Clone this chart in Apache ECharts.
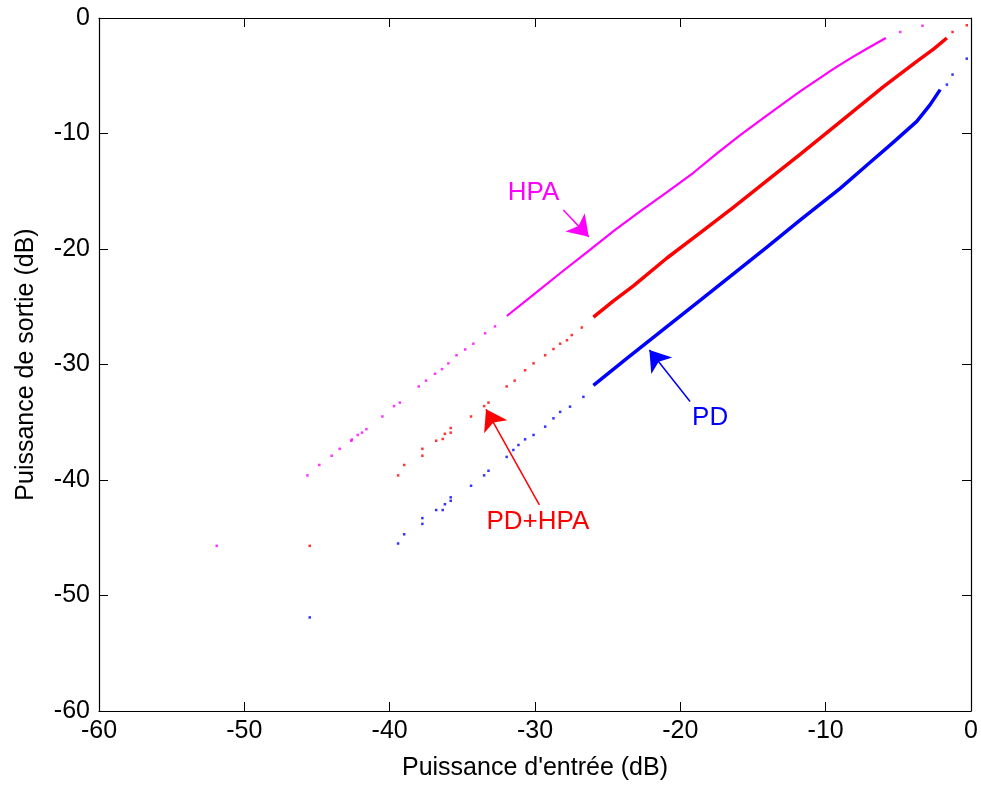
<!DOCTYPE html>
<html>
<head>
<meta charset="utf-8">
<script src="https://cdn.jsdelivr.net/npm/echarts@6/dist/echarts.min.js"></script>
<style>
html,body{margin:0;padding:0;background:#fff;}
#chart{width:981px;height:786px;}
</style>
</head>
<body>
<div id="chart"></div>
<script>
// ---- Data (dB) ----
// HPA (magenta): isolated points
const hpaDotsX = [-51.9,-45.66,-44.84,-43.99,-43.44,-42.64,-42.6,-42.2,-41.9,-41.6,-40.5,-39.7,-39.3,-38.0,-37.5,-36.88,-36.4,-35.96,-35.4,-34.8,-34.24,-33.43,-32.75,-4.87,-3.34];
const hpaDotsY = [-45.7,-39.6,-38.7,-37.9,-37.3,-36.6,-36.5,-36.1,-35.9,-35.6,-34.5,-33.6,-33.3,-31.9,-31.4,-30.8,-30.4,-29.9,-29.2,-28.7,-28.2,-27.3,-26.7,-1.21,-0.67];
// HPA dense band
const hpaBandX = [-31.94,-30.1,-28.27,-26.44,-24.6,-22.77,-20.94,-19.1,-17.5,-15.88,-14.06,-11.76,-9.46,-8.3,-7.17,-5.86];
const hpaBandY = [-25.8,-23.95,-22.1,-20.3,-18.45,-16.75,-15.1,-13.4,-11.75,-10.15,-8.45,-6.35,-4.4,-3.5,-2.66,-1.73];

// PD+HPA (red): isolated points
const pdhpaDotsX = [-45.5,-39.42,-39.0,-37.75,-37.75,-36.8,-36.35,-36.2,-35.8,-35.8,-34.4,-33.5,-33.2,-31.95,-31.4,-30.68,-30.1,-29.3,-28.73,-28.27,-27.8,-27.47,-26.78,-1.27,-0.29];
const pdhpaDotsY = [-45.7,-39.6,-38.7,-37.9,-37.3,-36.6,-36.45,-36.0,-35.9,-35.5,-34.5,-33.6,-33.3,-31.9,-31.4,-30.5,-29.9,-29.2,-28.66,-28.2,-27.9,-27.45,-26.8,-1.21,-0.63];
// PD+HPA dense band
const pdhpaBandX = [-25.98,-24.6,-23.23,-20.94,-18.64,-16.35,-14.06,-11.76,-9.0,-6.02,-3.73,-2.58,-1.66];
const pdhpaBandY = [-25.9,-24.5,-23.2,-20.8,-18.6,-16.4,-14.1,-11.8,-9.0,-5.95,-3.75,-2.7,-1.73];

// PD (blue): isolated points
const pdDotsX = [-45.5,-39.42,-39.0,-37.75,-37.75,-36.8,-36.35,-36.2,-35.8,-35.8,-34.4,-33.5,-33.2,-31.95,-31.49,-31.14,-30.68,-30.1,-29.3,-28.73,-28.27,-27.59,-26.67,-1.66,-1.27,-0.29];
const pdDotsY = [-51.9,-45.5,-44.7,-43.8,-43.3,-42.6,-42.6,-42.1,-41.8,-41.5,-40.5,-39.6,-39.2,-38.0,-37.4,-36.97,-36.48,-36.1,-35.38,-34.66,-34.1,-33.65,-32.8,-5.77,-4.9,-3.52];
// PD dense band
const pdBandX = [-25.98,-23.7,-21.16,-18.64,-16.35,-14.06,-11.76,-9.0,-7.17,-5.33,-3.73,-2.81,-2.12];
const pdBandY = [-31.8,-29.5,-26.95,-24.45,-22.15,-19.85,-17.5,-14.75,-12.75,-10.75,-8.95,-7.5,-6.2];

// Axis ticks
const xTicks = [-60,-50,-40,-30,-20,-10,0];
const yTicks = [0,-10,-20,-30,-40,-50,-60];

// Annotations (label text, label anchor, arrow tail, arrow tip) in data units
const annHPA   = {text:'HPA',    at:[-30.1,-15.1], from:[-28.05,-16.62], to:[-26.3,-18.95]};
const annPD    = {text:'PD',     at:[-17.95,-34.6], from:[-19.33,-33.2], to:[-22.13,-28.74]};
const annPDHPA = {text:'PD+HPA', at:[-29.8,-43.6], from:[-29.7,-42.16], to:[-33.37,-33.88]};

const MAG = '#ff00ff', RED = '#ff0000', BLUE = '#0000ff';
const zip = (xs, ys) => xs.map((x, i) => [x, ys[i]]);
const FONT = 'Liberation Sans, Arial, sans-serif';

function annSeries(a, color) {
  return {
    type: 'scatter', data: [], silent: true, z: 5,
    markLine: {
      silent: true, animation: false,
      symbol: ['none', 'arrow'], symbolSize: 20,
      lineStyle: {color: color, width: 1.5, type: 'solid'},
      label: {show: false},
      emphasis: {disabled: true},
      data: [[{coord: a.from}, {coord: a.to}]]
    },
    markPoint: {
      silent: true, animation: false,
      symbol: 'circle', symbolSize: 0,
      label: {show: true, formatter: a.text, color: color, fontSize: 26, fontFamily: FONT},
      data: [{coord: a.at}]
    }
  };
}

const axisLineStyle = {lineStyle: {color: '#000', width: 1.2}};
const chart = echarts.init(document.getElementById('chart'), null, {renderer: 'canvas'});
chart.setOption({
  animation: false,
  backgroundColor: '#fff',
  grid: {left: 99, right: 10, top: 18, bottom: 75, containLabel: false},
  xAxis: [{
    type: 'value', min: xTicks[0], max: xTicks[xTicks.length - 1], interval: 10,
    name: "Puissance d'entrée (dB)", nameLocation: 'middle', nameGap: 45,
    nameTextStyle: {color: '#000', fontSize: 25, fontFamily: FONT},
    axisLine: Object.assign({onZero: false}, axisLineStyle),
    axisTick: {inside: true, length: 9, lineStyle: {color: '#000'}},
    axisLabel: {color: '#000', fontSize: 25, fontFamily: FONT, margin: 8},
    splitLine: {show: false}
  }, {
    type: 'value', position: 'top', min: xTicks[0], max: xTicks[xTicks.length - 1], interval: 10,
    axisLine: Object.assign({onZero: false}, axisLineStyle),
    axisTick: {inside: true, length: 9, lineStyle: {color: '#000'}},
    axisLabel: {show: false}, splitLine: {show: false}
  }],
  yAxis: [{
    type: 'value', min: yTicks[yTicks.length - 1], max: yTicks[0], interval: 10,
    name: 'Puissance de sortie (dB)', nameLocation: 'middle', nameGap: 60,
    nameTextStyle: {color: '#000', fontSize: 25, fontFamily: FONT},
    axisLine: Object.assign({onZero: false}, axisLineStyle),
    axisTick: {inside: true, length: 9, lineStyle: {color: '#000'}},
    axisLabel: {color: '#000', fontSize: 25, fontFamily: FONT, margin: 9},
    splitLine: {show: false}
  }, {
    type: 'value', position: 'right', min: yTicks[yTicks.length - 1], max: yTicks[0], interval: 10,
    axisLine: Object.assign({onZero: false}, axisLineStyle),
    axisTick: {inside: true, length: 9, lineStyle: {color: '#000'}},
    axisLabel: {show: false}, splitLine: {show: false}
  }],
  series: [
    {name: 'HPA', type: 'scatter', data: zip(hpaDotsX, hpaDotsY), symbol: 'rect', symbolSize: 2.5, itemStyle: {color: MAG}},
    {name: 'HPA band', type: 'line', data: zip(hpaBandX, hpaBandY), showSymbol: false, smooth: false, lineStyle: {color: MAG, width: 2.2, join: 'round'}},
    {name: 'PD+HPA', type: 'scatter', data: zip(pdhpaDotsX, pdhpaDotsY), symbol: 'rect', symbolSize: 2.5, itemStyle: {color: RED}},
    {name: 'PD+HPA band', type: 'line', data: zip(pdhpaBandX, pdhpaBandY), showSymbol: false, smooth: false, lineStyle: {color: RED, width: 3.5, join: 'round'}},
    {name: 'PD', type: 'scatter', data: zip(pdDotsX, pdDotsY), symbol: 'rect', symbolSize: 2.5, itemStyle: {color: BLUE}},
    {name: 'PD band', type: 'line', data: zip(pdBandX, pdBandY), showSymbol: false, smooth: false, lineStyle: {color: BLUE, width: 3.5, join: 'round'}},
    annSeries(annHPA, MAG),
    annSeries(annPD, BLUE),
    annSeries(annPDHPA, RED)
  ]
});
</script>
</body>
</html>
